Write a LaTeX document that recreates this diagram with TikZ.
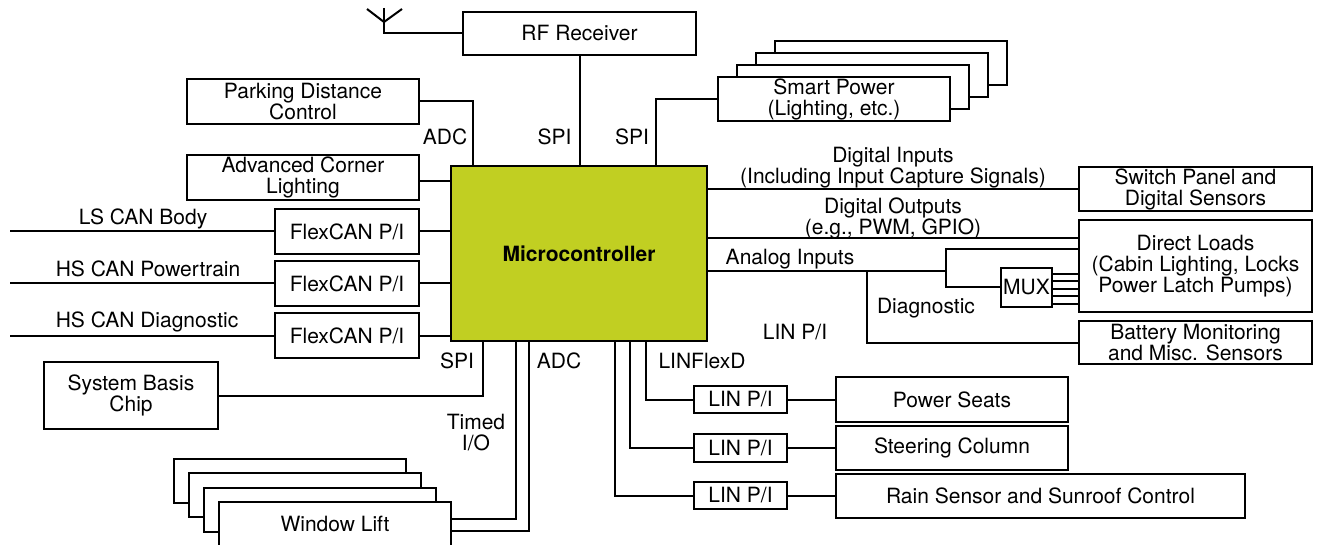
\documentclass[tikz,border=0pt]{standalone}
\usepackage{fontspec}
\setmainfont{TeX Gyre Heros}
\newcommand{\fsz}{\fontsize{10.5pt}{10.5pt}\selectfont}
\definecolor{mcugreen}{RGB}{193,207,34}
\tikzset{
  box/.style={draw, fill=white, line width=1pt, inner sep=0pt, align=center, font=\fsz},
  sz/.style 2 args={minimum width=#1, minimum height=#2},
  lbl/.style={inner sep=0pt, align=center, font=\fsz},
  wire/.style={line width=1pt}
}
\begin{document}
\begin{tikzpicture}[x=0.5pt,y=-0.5pt]
\useasboundingbox (0,0) rectangle (1317,545);
\clip (0,0) rectangle (1317,545);

% ---- boxes ----
\node[box, sz={116.5pt}{21.5pt}] (rf) at (579.5,33.5) {RF Receiver};
\node[box, sz={116pt}{22.5pt}] (pdc) at (303,101.5) {Parking Distance\\Control};
\node[box, sz={116pt}{22.5pt}] (acl) at (303,177.5) {Advanced Corner\\Lighting};
\node[box, sz={128pt}{87.5pt}, fill=mcugreen, font=\fsz\bfseries] (mcu) at (579,253.5) {Microcontroller};

% smart power stack
\node[box, sz={116pt}{22pt}] (sp3) at (891,63) {};
\node[box, sz={116pt}{22pt}] (sp2) at (872,75) {};
\node[box, sz={116pt}{22pt}] (sp1) at (853,87) {};
\node[box, sz={116pt}{22pt}] (sp) at (834,99) {Smart Power\\(Lighting, etc.)};

\node[box, sz={72pt}{22.5pt}] (fc1) at (347,231.5) {FlexCAN P/I};
\node[box, sz={72pt}{22.5pt}] (fc2) at (347,283.5) {FlexCAN P/I};
\node[box, sz={72pt}{22.5pt}] (fc3) at (347,335.5) {FlexCAN P/I};
\node[box, sz={87pt}{33.5pt}] (sbc) at (131,395.5) {System Basis\\Chip};

% window lift stack
\node[box, sz={116pt}{22pt}] (wl3) at (290,480.5) {};
\node[box, sz={116pt}{22pt}] (wl2) at (305,495) {};
\node[box, sz={116pt}{22pt}] (wl1) at (320,509.5) {};
\node[box, sz={116pt}{22pt}] (wl) at (335,524) {Window Lift};

\node[box, sz={116.5pt}{22pt}] (sw) at (1195.5,189) {Switch Panel and\\Digital Sensors};
\node[box, sz={116.5pt}{46pt}] (dl) at (1195.5,266) {Direct Loads\\(Cabin Lighting, Locks\\Power Latch Pumps)};
\node[box, sz={25.5pt}{19.5pt}] (mux) at (1026.5,287.5) {MUX};
\node[box, sz={116.5pt}{21.5pt}] (bat) at (1195.5,342.5) {Battery Monitoring\\and Misc. Sensors};

\node[box, sz={46.5pt}{13.5pt}] (lin1) at (740.5,399.5) {LIN P/I};
\node[box, sz={46.5pt}{14pt}] (lin2) at (740.5,448) {LIN P/I};
\node[box, sz={46.5pt}{13.5pt}] (lin3) at (740.5,495.5) {LIN P/I};
\node[box, sz={116pt}{22.5pt}] (ps) at (952,399.5) {Power Seats};
\node[box, sz={116pt}{22pt}] (sc) at (952,448) {Steering Column};
\node[box, sz={204.5pt}{22pt}] (rain) at (1040.5,495.5) {Rain Sensor and Sunroof Control};

% ---- labels ----
\node[lbl, anchor=base] (ladc1) at (445,145) {ADC};
\node[lbl, anchor=base] (lspi1) at (554.5,145) {SPI};
\node[lbl, anchor=base] (lspi2) at (632,145) {SPI};
\node[lbl] (ldi) at (893,168) {Digital Inputs\\(Including Input Capture Signals)};
\node[lbl] (ldo) at (893,218) {Digital Outputs\\(e.g., PWM, GPIO)};
\node[lbl, anchor=base] (lai) at (790,265) {Analog Inputs};
\node[lbl, anchor=base] (ldiag) at (926,314) {Diagnostic};
\node[lbl, anchor=base] (llin) at (795,339) {LIN P/I};
\node[lbl, anchor=base] (llfd) at (702,368) {LINFlexD};
\node[lbl, anchor=base] (ladc2) at (559,368) {ADC};
\node[lbl, anchor=base] (lspi3) at (457,368) {SPI};
\node[lbl] (ltio) at (476,433) {Timed\\I/O};
\node[lbl, anchor=base] (lcan1) at (143,225) {LS CAN Body};
\node[lbl, anchor=base] (lcan2) at (148,277) {HS CAN Powertrain};
\node[lbl, anchor=base] (lcan3) at (147,328) {HS CAN Diagnostic};

% ---- coordinates ----
\coordinate (antT) at (384,8);
\coordinate (antV) at (384,22);
\coordinate (antL) at (367,9);
\coordinate (antR) at (402,9);
\coordinate (adcT) at (473,166);
\coordinate (aclM) at (451,181);
\coordinate (spiT) at (656,166);
\coordinate (can1) at (10,231.5);
\coordinate (can2) at (10,283.5);
\coordinate (can3) at (10,335.5);
\coordinate (sbcM) at (483,341);
\coordinate (tioM) at (516,341);
\coordinate (tioW) at (451,519);
\coordinate (adcM) at (529,341);
\coordinate (adcW) at (451,531);
\coordinate (l1M) at (646,341);
\coordinate (l2M) at (630,341);
\coordinate (l3M) at (615,341);
\coordinate (doE) at (1079,238);
\coordinate (dlA) at (1079,249);
\coordinate (j1) at (867,271);
\coordinate (j2) at (946,271);

% ---- connectors ----
\draw[wire] (antL) -- (antV) -- (antR);
\draw[wire] (antT) |- (rf.west);
\draw[wire] (rf.south) -- (rf.south |- mcu.north);
\draw[wire] (pdc.east) -| (adcT);
\draw[wire] (aclM) -- (aclM -| acl.east);
\draw[wire] (sp.west) -| (spiT);

\draw[wire] (can1) -- (fc1.west);
\draw[wire] (can2) -- (fc2.west);
\draw[wire] (can3) -- (fc3.west);
\draw[wire] (fc1.east) -- (fc1.east -| mcu.west);
\draw[wire] (fc2.east) -- (fc2.east -| mcu.west);
\draw[wire] (fc3.east) -- (fc3.east -| mcu.west);

\draw[wire] (sbc.east) -| (sbcM);
\draw[wire] (tioM) |- (tioW);
\draw[wire] (adcM) |- (adcW);

\draw[wire] (l1M) |- (lin1.west);
\draw[wire] (l2M) |- (lin2.west);
\draw[wire] (l3M) |- (lin3.west);
\draw[wire] (lin1.east) -- (ps.west);
\draw[wire] (lin2.east) -- (sc.west);
\draw[wire] (lin3.east) -- (rain.west);

\draw[wire] (sw.west) -- (sw.west -| mcu.east);
\draw[wire] (doE) -- (doE -| mcu.east);
\draw[wire] (mcu.east |- j2) -- (j2);
\draw[wire] (dlA) -| (j2) |- (mux.west);
\draw[wire] (j1) |- (bat.west);
\foreach \yy in {274,281.5,289,296.5,304}
  \draw[wire] (mux.east |- 0,\yy) -- (dl.west |- 0,\yy);
\end{tikzpicture}
\end{document}
